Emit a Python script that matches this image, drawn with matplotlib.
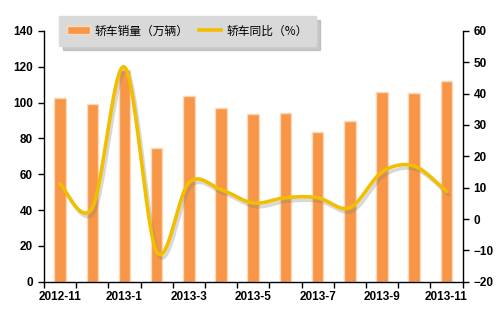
import matplotlib
matplotlib.use("Agg")
import matplotlib.pyplot as plt
import matplotlib.patheffects as pe
from matplotlib.patches import Patch
from matplotlib.lines import Line2D
import numpy as np

months = ["2012-11", "2012-12", "2013-1", "2013-2", "2013-3", "2013-4", "2013-5",
          "2013-6", "2013-7", "2013-8", "2013-9", "2013-10", "2013-11"]
sales = [102.8, 99.3, 118.0, 74.9, 103.7, 97.2, 93.9, 94.2, 83.6, 89.8, 106.1, 105.4, 112.3]
yoy = [11.2, 3.6, 48.5, -10.4, 11.6, 9.4, 5.1, 6.8, 6.8, 3.6, 15.0, 16.9, 8.8]
label_sales = "轿车销量（万辆）"
label_yoy = "轿车同比（%）"

plt.rcParams['font.family'] = ['Liberation Sans', 'Noto Sans CJK SC', 'DejaVu Sans']

fig = plt.figure(figsize=(5.03, 3.16), dpi=100)
ax = fig.add_axes([0.0875, 0.1085, 0.832, 0.7935])
ax2 = ax.twinx()

x = np.arange(len(months))
bar_color = '#F79646'
line_color = '#F2BE00'
ax.bar(x, sales, width=0.36, color=bar_color, edgecolor='#FCD9BC', linewidth=1.0, zorder=2)

# Excel-style smoothed line (Catmull-Rom / Bezier)
def smooth(xs, ys, n=30):
    P = np.column_stack([xs, ys]).astype(float)
    Pe = np.vstack([P[0], P, P[-1]])
    out = []
    for i in range(len(P) - 1):
        p0, p1, p2, p3 = Pe[i], Pe[i + 1], Pe[i + 2], Pe[i + 3]
        c1 = p1 + (p2 - p0) / 6.0
        c2 = p2 - (p3 - p1) / 6.0
        t = np.linspace(0, 1, n)[:, None]
        seg = ((1 - t) ** 3) * p1 + 3 * ((1 - t) ** 2) * t * c1 + 3 * (1 - t) * t ** 2 * c2 + t ** 3 * p2
        out.append(seg if i == 0 else seg[1:])
    out = np.vstack(out)
    return out[:, 0], out[:, 1]

sx, sy = smooth(x, yoy)
ax2.plot(sx, sy, color=line_color, linewidth=2.6, solid_capstyle='round', zorder=3,
         path_effects=[pe.SimpleLineShadow(offset=(1.5, -2.5), shadow_color='#808080', alpha=0.3),
                       pe.Normal()])

ax.set_xlim(-0.5, len(months) - 0.5)
ax.set_ylim(0, 140)
ax2.set_ylim(-20, 60)
ax.set_yticks(np.arange(0, 141, 20))
ax2.set_yticks(np.arange(-20, 61, 10))

ax.set_xticks(np.arange(-0.5, len(months), 1.0))
ax.set_xticklabels([])
ax.set_xticks(x[::2], minor=True)
ax.set_xticklabels(months[::2], minor=True)
ax.tick_params(axis='x', which='major', length=4, width=1, direction='out', color='black')
ax.tick_params(axis='x', which='minor', length=0, pad=7, labelsize=8.5)
for lab in ax.get_xticklabels(minor=True):
    lab.set_fontweight('bold')

ax.tick_params(axis='y', length=4, width=1, labelsize=8.5, pad=4)
ax2.tick_params(axis='y', length=4, width=1, labelsize=8.5, pad=4)
for lab in ax.get_yticklabels() + ax2.get_yticklabels():
    lab.set_fontweight('bold')

for a in (ax, ax2):
    a.spines['top'].set_visible(False)
    for s in ('left', 'right', 'bottom'):
        a.spines[s].set_linewidth(1.0)
        a.spines[s].set_color('black')
ax.spines['right'].set_visible(False)
ax2.spines['left'].set_visible(False)
ax2.spines['bottom'].set_visible(False)

handles = [Patch(facecolor=bar_color, edgecolor='#FCD9BC'),
           Line2D([0], [0], color=line_color, linewidth=2.6)]
leg = fig.legend(handles, [label_sales, label_yoy], loc='upper left',
                 bbox_to_anchor=(0.117, 0.949), ncol=2, frameon=True, fancybox=False,
                 facecolor='#D9D9D9', edgecolor='#D9D9D9', framealpha=1,
                 shadow={'color': '#A6A6A6', 'alpha': 0.6, 'ox': 3, 'oy': -3},
                 prop={'family': ['Noto Sans CJK SC', 'DejaVu Sans'], 'size': 8.5},
                 handlelength=1.9, handleheight=0.6, columnspacing=0.9, borderpad=0.7,
                 handletextpad=0.4, borderaxespad=0)

fig.savefig('out.png', dpi=100)
